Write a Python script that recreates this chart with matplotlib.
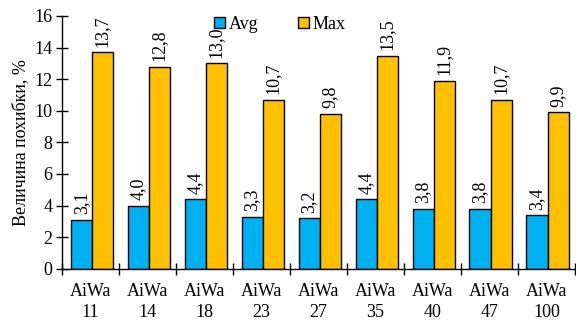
import numpy as np
import matplotlib.pyplot as plt
from matplotlib.ticker import MultipleLocator, FixedLocator

plt.rcParams['font.family'] = ['Liberation Serif', 'DejaVu Serif']
plt.rcParams['font.size'] = 13

# Error values per model
models = ["AiWa\n11", "AiWa\n14", "AiWa\n18", "AiWa\n23", "AiWa\n27",
          "AiWa\n35", "AiWa\n40", "AiWa\n47", "AiWa\n100"]
avg_err = [3.1, 4.0, 4.4, 3.3, 3.2, 4.4, 3.8, 3.8, 3.4]
max_err = [13.7, 12.8, 13.0, 10.7, 9.8, 13.5, 11.9, 10.7, 9.9]

fig = plt.figure(figsize=(5.76, 3.2), dpi=100)
ax = fig.add_axes([0.108, 0.16, 0.89, 0.79])

x = np.arange(len(models))
w = 0.37
b1 = ax.bar(x - w / 2 + 0.02, avg_err, w, color="#00B0F0", edgecolor="black",
            linewidth=1, label="Avg")
b2 = ax.bar(x + w / 2 + 0.02, max_err, w, color="#FFC000", edgecolor="black",
            linewidth=1, label="Max")

# Value labels above bars, comma as decimal separator
for bars in (b1, b2):
    for r in bars:
        h = r.get_height()
        ax.annotate(f"{h:.1f}".replace(".", ","),
                    (r.get_x() + r.get_width() / 2, h),
                    xytext=(0, 4), textcoords="offset points",
                    rotation=90, ha="center", va="bottom")

ax.set_xlim(-0.5, len(models) - 0.5)
ax.set_ylim(0, 16)
ax.yaxis.set_major_locator(MultipleLocator(2))
ax.set_xticks(x)
ax.set_xticklabels(models, linespacing=1.3)
ax.xaxis.set_minor_locator(FixedLocator(np.arange(-0.5, len(models), 1.0)))
ax.tick_params(axis="x", which="major", length=0, pad=10)
ax.tick_params(axis="x", which="minor", direction="inout", length=8, width=1)
ax.tick_params(axis="y", direction="inout", length=8, width=1, pad=3)

for s in ("top", "right"):
    ax.spines[s].set_visible(False)
for s in ("left", "bottom"):
    ax.spines[s].set_linewidth(1)

ax.set_ylabel("Величина похибки, %", labelpad=4)

ax.legend(loc="upper center", bbox_to_anchor=(0.425, 1.065), ncol=2,
          frameon=False, handlelength=0.6, handleheight=0.6,
          handletextpad=0.2, columnspacing=2.2)

fig.savefig("out.png", dpi=100)
